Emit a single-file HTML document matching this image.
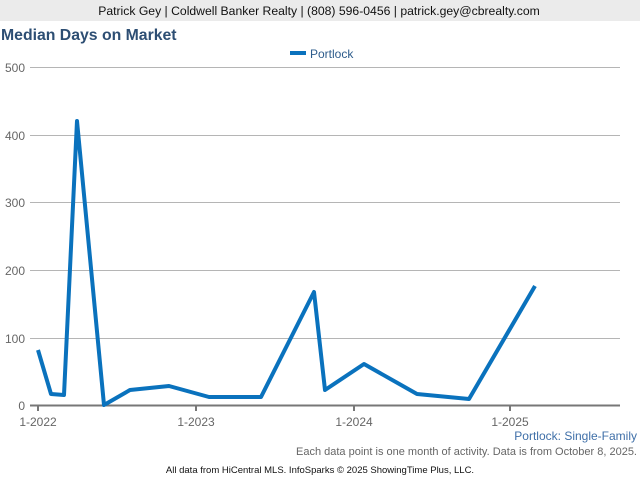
<!DOCTYPE html>
<html><head><meta charset="utf-8"><style>
body{margin:0;width:640px;height:480px;background:#fff;font-family:"Liberation Sans",sans-serif;overflow:hidden}
</style></head><body>
<svg width="640" height="480" xmlns="http://www.w3.org/2000/svg" font-family="Liberation Sans, sans-serif">
<rect x="0" y="0" width="640" height="21" fill="#ebebeb"/>
<text x="319" y="15" font-size="12.2" text-anchor="middle" fill="#111">Patrick Gey | Coldwell Banker Realty | (808) 596-0456 | patrick.gey@cbrealty.com</text>
<text x="1" y="40" font-size="15.8" font-weight="bold" fill="#2d4e73">Median Days on Market</text>
<rect x="290" y="51" width="16" height="4" fill="#0a72bd"/>
<text x="310" y="58" font-size="12" fill="#2d5c8c">Portlock</text>
<g stroke="#b5b5b5" stroke-width="1">
<line x1="30" y1="67.5" x2="620" y2="67.5"/><line x1="30" y1="135.5" x2="620" y2="135.5"/>
<line x1="30" y1="202.5" x2="620" y2="202.5"/><line x1="30" y1="270.5" x2="620" y2="270.5"/>
<line x1="30" y1="338.5" x2="620" y2="338.5"/></g>
<line x1="30" y1="405.5" x2="620" y2="405.5" stroke="#777" stroke-width="2"/>
<g stroke="#777" stroke-width="2"><line x1="38" y1="405" x2="38" y2="411"/><line x1="196" y1="405" x2="196" y2="411"/><line x1="354" y1="405" x2="354" y2="411"/><line x1="510" y1="405" x2="510" y2="411"/></g>
<g font-size="12" fill="#666" text-anchor="end">
<text x="25" y="72">500</text><text x="25" y="140">400</text><text x="25" y="207">300</text><text x="25" y="275">200</text><text x="25" y="343">100</text><text x="25" y="410">0</text></g>
<g font-size="12" fill="#666" text-anchor="middle">
<text x="38" y="426">1-2022</text><text x="196" y="426">1-2023</text><text x="354" y="426">1-2024</text><text x="510" y="426">1-2025</text></g>
<polyline fill="none" stroke="#0a72bd" stroke-width="4" stroke-linejoin="round" points="38,350 51,394 64,395 77,121 104,405 130,390 169,386 209,397 261,397 314,292 325,390 364,364 417,394 469,399 535,286"/>
<text x="637" y="440" font-size="12" fill="#3f6fa8" text-anchor="end">Portlock: Single-Family</text>
<text x="637" y="455" font-size="11" fill="#666" text-anchor="end">Each data point is one month of activity. Data is from October 8, 2025.</text>
<text x="320" y="473" font-size="9.5" fill="#111" text-anchor="middle">All data from HiCentral MLS. InfoSparks © 2025 ShowingTime Plus, LLC.</text>
</svg>
</body></html>
